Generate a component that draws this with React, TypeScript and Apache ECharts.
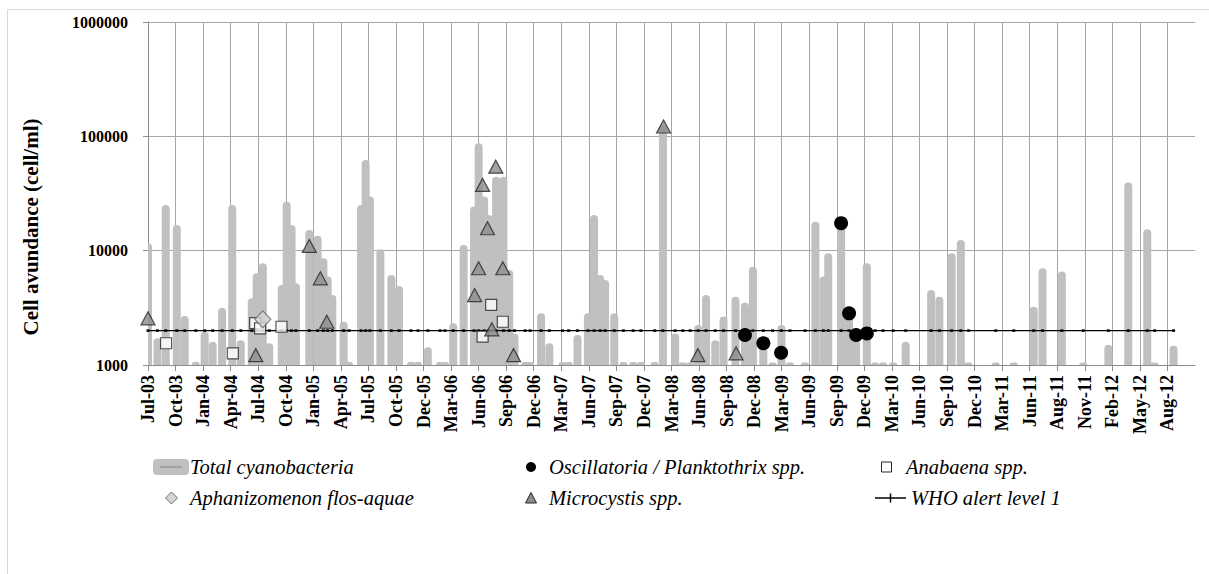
import React, { useEffect, useRef } from "react";
import * as echarts from "echarts";

// Sampling started on 14 July 2003; x positions are days since that date.
const FIRST_SAMPLE = Date.UTC(2003, 6, 14);
const DAY_MS = 86400000;
const TICK_STEP_DAYS = 90;
const AXIS_SPAN_DAYS = 38 * TICK_STEP_DAYS;
const MONTHS = ["Jan", "Feb", "Mar", "Apr", "May", "Jun", "Jul", "Aug", "Sep", "Oct", "Nov", "Dec"];

const WHO_ALERT_1 = 2000;

// Sampling days (days since first sample) and total cyanobacteria (cells/ml)
const sampleDays = [
  0, 31, 58, 94, 120, 156, 185, 211, 242, 275, 303, 339, 355, 375, 396, 437, 453, 469, 483, 527,
  554, 573, 587, 602, 639, 657, 696, 711, 725, 759, 795, 820, 859, 882, 914, 954, 970, 997, 1031, 1065,
  1080, 1098, 1112, 1137, 1161, 1180, 1197, 1232, 1248, 1284, 1311, 1354, 1374, 1403, 1437, 1457, 1477, 1493, 1523, 1553,
  1585, 1610, 1655, 1682, 1722, 1747, 1771, 1797, 1823, 1853, 1880, 1919, 1950, 1976, 2010, 2040, 2069, 2097, 2146, 2180,
  2206, 2222, 2264, 2290, 2313, 2348, 2375, 2401, 2434, 2475, 2558, 2585, 2625, 2655, 2680, 2769, 2828, 2893, 2922, 2985,
  3055, 3137, 3202, 3264, 3288, 3350,
];
const totalCells = [
  11600, 1710, 25100, 16800, 2680, 1070, 1950, 1600, 3170, 25100, 1650, 3840, 6340, 7760, 1550, 5010, 26800, 16800, 5190, 15200,
  13500, 8570, 5930, 4090, 2390, 1070, 25100, 62200, 29700, 10300, 6120, 4910, 1070, 1070, 1430, 1060, 1060, 2320, 11200, 24300,
  87100, 29700, 20500, 44400, 44400, 6780, 1890, 1060, 1060, 2830, 1550, 1060, 1060, 1830, 2830, 20500, 6120, 5540, 2830, 1060,
  1060, 1060, 1060, 125000, 1890, 1050, 1050, 2240, 4090, 1650, 2650, 3960, 3510, 7250, 1550, 1050, 2240, 1050, 1050, 17900,
  5930, 9490, 17400, 2900, 1900, 7760, 1050, 1050, 1050, 1600, 4530, 3960, 9490, 12400, 1050, 1050, 1050, 3240, 7020, 6560,
  1050, 1500, 39400, 15400, 1050, 1475,
];

// Genus counts: [day, cells/ml]
const oscillatoria = [
  [1950, 1830], [2010, 1550], [2068, 1280], [2264, 17400], [2290, 2830], [2313, 1830], [2348, 1890],
];
const anabaena = [
  [59, 1550], [277, 1265], [350, 2320], [366, 2095], [436, 2160], [1093, 1770], [1121, 3350], [1159, 2390],
];
const aphanizomenon = [[375, 2510]];
const microcystis = [
  [0, 2560], [352, 1220], [527, 11000], [563, 5730], [584, 2390], [1067, 4090], [1080, 7020], [1093, 37600],
  [1109, 15700], [1123, 2050], [1136, 54300], [1159, 7020], [1194, 1220], [1684, 122000], [1796, 1220], [1921, 1265],
];

const SERIF = "'Liberation Serif', 'Times New Roman', serif";
const GRID_GREY = "#a6a6a6";
const AXIS_GREY = "#8c8c8c";
const LEGEND_FONT_SIZE = 20.5;

const dateLabel = (days: number) => {
  const dt = new Date(FIRST_SAMPLE + days * DAY_MS);
  return `${MONTHS[dt.getUTCMonth()]}-${String(dt.getUTCFullYear() % 100).padStart(2, "0")}`;
};

const legendText = (text: string, x: number, y: number) => ({
  type: "text",
  silent: true,
  x,
  y,
  style: {
    text,
    fill: "#000",
    font: `italic ${LEGEND_FONT_SIZE}px ${SERIF}`,
    fontFamily: SERIF,
    fontStyle: "italic",
    fontSize: LEGEND_FONT_SIZE,
    verticalAlign: "middle",
    align: "left",
  },
});

export default function App() {
  const ref = useRef<HTMLDivElement>(null);

  useEffect(() => {
    if (!ref.current) return;
    const chart = echarts.init(ref.current, undefined, { renderer: "svg" });

    const option = {
      animation: false,
      backgroundColor: "#fff",
      textStyle: { fontFamily: SERIF },
      grid: { left: 148, right: 14, top: 22, bottom: 209, containLabel: false },
      xAxis: {
        type: "value",
        min: 0,
        max: AXIS_SPAN_DAYS,
        interval: TICK_STEP_DAYS,
        axisLine: { show: true, onZero: false, lineStyle: { color: AXIS_GREY, width: 1 } },
        axisTick: { show: true, length: 6, lineStyle: { color: AXIS_GREY } },
        axisLabel: {
          rotate: 90,
          margin: 10,
          showMaxLabel: false,
          color: "#000",
          fontFamily: SERIF,
          fontWeight: "bold",
          fontSize: 18,
          formatter: (v: number) => dateLabel(v),
        },
        splitLine: { show: true, showMaxLine: false, lineStyle: { color: GRID_GREY, width: 1 } },
      },
      yAxis: {
        type: "log",
        logBase: 10,
        min: 1000,
        max: 1000000,
        axisLine: { show: true, lineStyle: { color: AXIS_GREY, width: 1 } },
        axisTick: { show: true, length: 5, lineStyle: { color: AXIS_GREY } },
        axisLabel: {
          margin: 20,
          color: "#000",
          fontFamily: SERIF,
          fontWeight: "bold",
          fontSize: 16,
          formatter: (v: number) => String(Math.round(v)),
        },
        splitLine: { show: true, lineStyle: { color: GRID_GREY, width: 1 } },
      },
      series: [
        {
          name: "Total cyanobacteria",
          type: "custom",
          clip: true,
          z: 1,
          data: sampleDays.map((d, i) => [d, totalCells[i]]),
          encode: { x: 0, y: 1 },
          renderItem: (params: any, api: any) => {
            const top = api.coord([api.value(0), api.value(1)]);
            const cs = params.coordSys;
            const base = cs.y + cs.height;
            const w = 8;
            return {
              type: "rect",
              shape: { x: top[0] - w / 2, y: top[1], width: w, height: base - top[1], r: [4, 4, 0, 0] },
              style: { fill: "#c0c0c0" },
            };
          },
        },
        {
          name: "WHO alert level 1",
          type: "line",
          z: 2,
          data: sampleDays.map((d) => [d, WHO_ALERT_1]),
          lineStyle: { color: "#000", width: 1.2 },
          symbol: "rect",
          symbolSize: [3, 2.5],
          itemStyle: { color: "#000" },
        },
        {
          name: "Anabaena spp.",
          type: "scatter",
          z: 3,
          data: anabaena,
          symbol: "rect",
          symbolSize: 11,
          itemStyle: { color: "#fff", borderColor: "#262626", borderWidth: 1.2 },
        },
        {
          name: "Aphanizomenon flos-aquae",
          type: "scatter",
          z: 4,
          data: aphanizomenon,
          symbol: "diamond",
          symbolSize: [16, 17],
          itemStyle: { color: "#d4d4d4", borderColor: "#6e6e6e", borderWidth: 1.2 },
        },
        {
          name: "Microcystis spp.",
          type: "scatter",
          z: 5,
          data: microcystis,
          symbol: "triangle",
          symbolSize: [14, 13],
          itemStyle: { color: "#8c8c8c", borderColor: "#262626", borderWidth: 1.2 },
        },
        {
          name: "Oscillatoria / Planktothrix spp.",
          type: "scatter",
          z: 6,
          data: oscillatoria,
          symbol: "circle",
          symbolSize: 14,
          itemStyle: { color: "#000", opacity: 1 },
        },
      ],
      graphic: [
        {
          type: "rect",
          silent: true,
          z: -10,
          shape: { x: 7.5, y: 9.5, width: 1400, height: 800 },
          style: { fill: "none", stroke: "#d9d9d9", lineWidth: 1 },
        },
        // y-axis title
        {
          type: "text",
          silent: true,
          x: 31,
          y: 227,
          rotation: Math.PI / 2,
          style: {
            text: "Cell avundance (cell/ml)",
            fill: "#000",
            font: `bold 21px ${SERIF}`,
            fontFamily: SERIF,
            fontWeight: "bold",
            fontSize: 21,
            align: "center",
            verticalAlign: "middle",
          },
        },
        // legend, column 1
        {
          type: "rect",
          silent: true,
          shape: { x: 153, y: 459, width: 36, height: 16, r: 4 },
          style: { fill: "#c0c0c0" },
        },
        {
          type: "line",
          silent: true,
          shape: { x1: 160, y1: 467, x2: 182, y2: 467 },
          style: { stroke: "#9a9a9a", lineWidth: 1.5 },
        },
        legendText("Total cyanobacteria", 190, 467),
        {
          type: "polygon",
          silent: true,
          shape: { points: [[171.5, 492], [177.5, 498], [171.5, 504], [165.5, 498]] },
          style: { fill: "#d4d4d4", stroke: "#6e6e6e", lineWidth: 1 },
        },
        legendText("Aphanizomenon flos-aquae", 190, 498),
        // legend, column 2
        {
          type: "circle",
          silent: true,
          shape: { cx: 531, cy: 467, r: 5 },
          style: { fill: "#000" },
        },
        legendText("Oscillatoria / Planktothrix spp.", 549, 467),
        {
          type: "polygon",
          silent: true,
          shape: { points: [[531, 492.5], [536.5, 503], [525.5, 503]] },
          style: { fill: "#8c8c8c", stroke: "#262626", lineWidth: 1 },
        },
        legendText("Microcystis spp.", 549, 498),
        // legend, column 3
        {
          type: "rect",
          silent: true,
          shape: { x: 881.5, y: 462, width: 10, height: 10 },
          style: { fill: "#fff", stroke: "#262626", lineWidth: 1 },
        },
        legendText("Anabaena spp.", 906, 467),
        {
          type: "line",
          silent: true,
          shape: { x1: 875, y1: 498, x2: 906, y2: 498 },
          style: { stroke: "#000", lineWidth: 1.5 },
        },
        {
          type: "line",
          silent: true,
          shape: { x1: 890.5, y1: 493.5, x2: 890.5, y2: 502.5 },
          style: { stroke: "#000", lineWidth: 1.5 },
        },
        legendText("WHO alert level 1", 911, 498),
      ],
    };

    chart.setOption(option as any);
    return () => chart.dispose();
  }, []);

  return (
    <div
      ref={ref}
      style={{ position: "fixed", left: 0, top: 0, width: 1209, height: 574, background: "#fff" }}
    />
  );
}
